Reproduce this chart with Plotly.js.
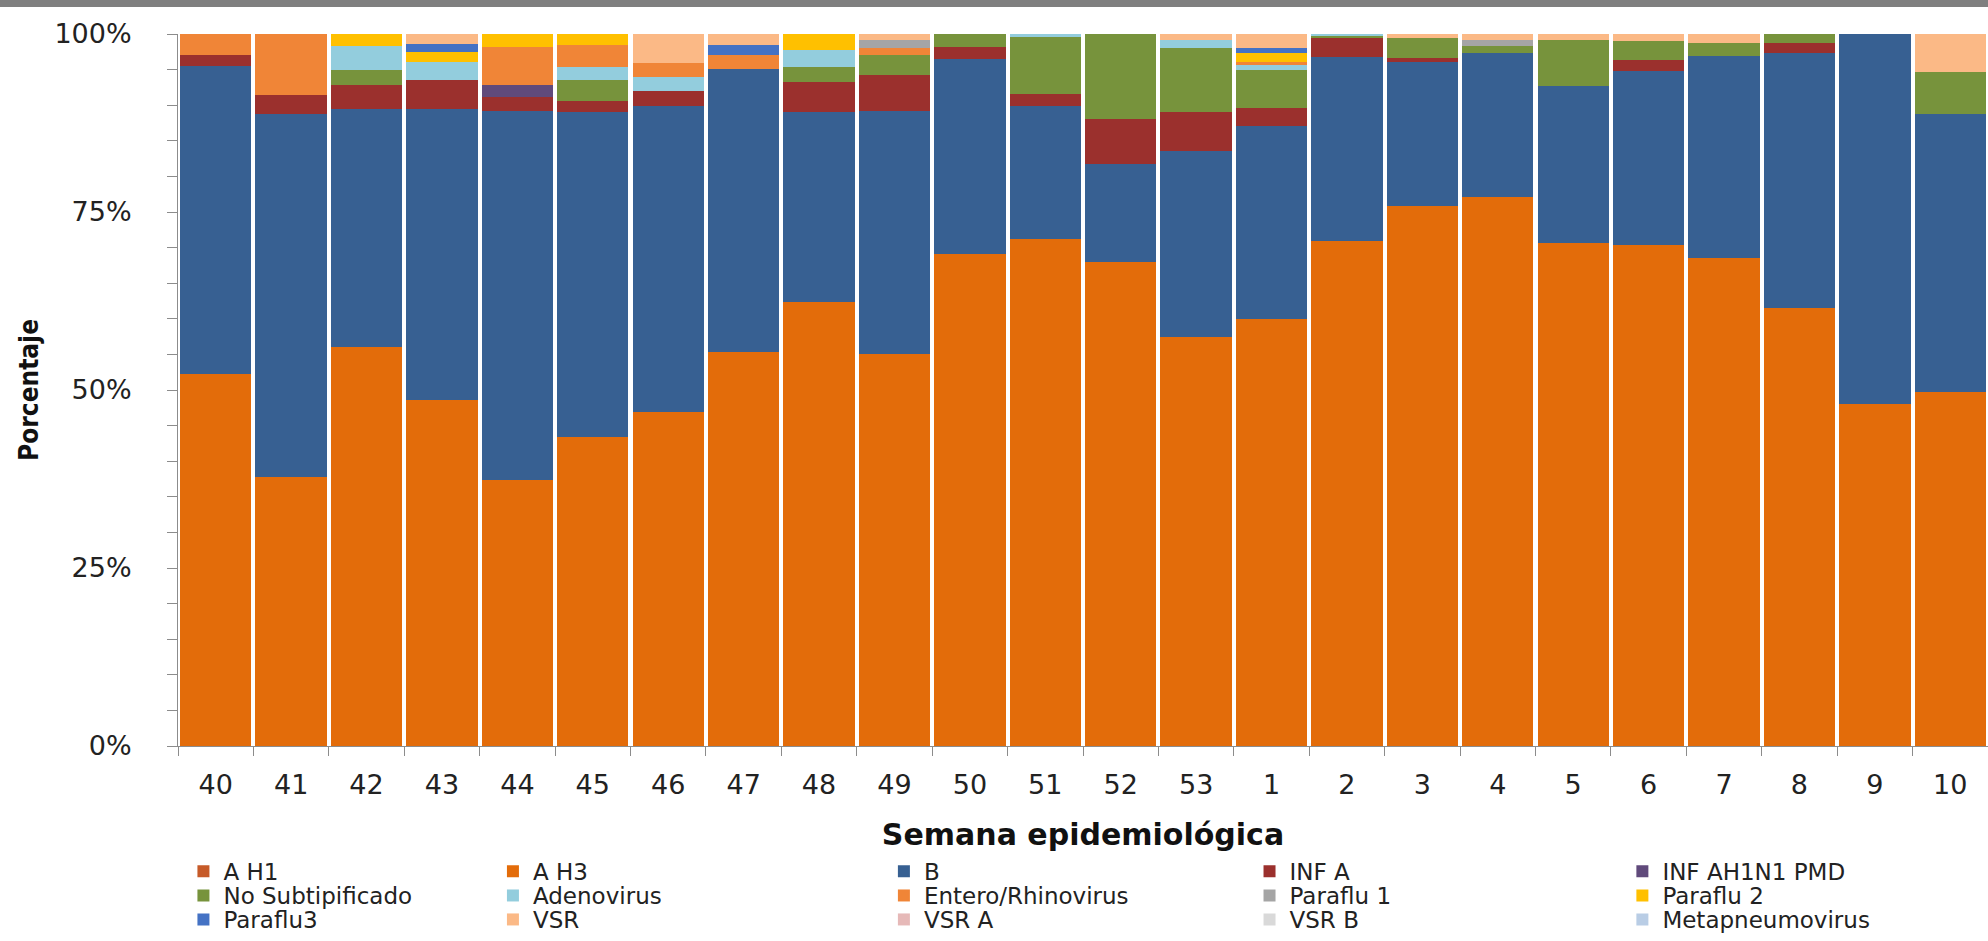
<!DOCTYPE html>
<html>
<head>
<meta charset="utf-8">
<script src="https://cdn.plot.ly/plotly-3.0.1.min.js"></script>
<style>
  html, body { margin: 0; padding: 0; background: #fff; }
  #plot { width: 1988px; height: 941px; }
</style>
</head>
<body>
<div id="plot"></div>
<script>
// semanas epidemiologicas (categorias)
var weeks = ["40","41","42","43","44","45","46","47","48","49","50","51","52","53",
             "1","2","3","4","5","6","7","8","9","10"];

// porcentaje por virus, en el orden de las semanas
var aH1       = [0,0,0,0,0,0,0,0,0,0,0,0,0,0,0,0,0,0,0,0,0,0,0,0];
var aH3       = [52.3,37.8,56.0,48.6,37.3,43.4,46.9,55.3,62.4,55.0,69.1,71.2,68.0,57.5,60.0,70.9,75.9,77.1,70.6,70.3,68.5,61.5,48.0,49.7];
var fluB      = [43.2,50.9,33.5,40.9,51.9,45.6,43.0,39.8,26.6,34.2,27.4,18.7,13.7,26.0,27.1,25.9,20.1,20.3,22.1,24.5,28.4,35.9,52.0,39.0];
var infA      = [1.5,2.8,3.4,4.0,1.9,1.6,2.1,0,4.3,5.1,1.7,1.7,6.3,5.6,2.5,2.6,0.6,0,0,1.5,0,1.4,0,0];
var infAH1N1  = [0,0,0,0,1.8,0,0,0,0,0,0,0,0,0,0,0,0,0,0,0,0,0,0,0];
var noSubtip  = [0,0,2.0,0,0,3.0,0,0,2.1,2.7,1.8,8.0,12.0,9.0,5.3,0.3,2.9,0.9,6.4,2.7,1.9,1.2,0,5.9];
var adenov    = [0,0,3.4,2.5,0,1.7,1.9,0,2.3,0,0,0.4,0,1.0,0.8,0.3,0,0,0,0,0,0,0,0];
var enteroRh  = [3.0,8.5,0,0,5.3,3.1,2.0,1.9,0,1.1,0,0,0,0,0.4,0,0,0,0,0,0,0,0,0];
var paraflu1  = [0,0,0,0,0,0,0,0,0,1.1,0,0,0,0,0,0,0,0.8,0,0,0,0,0,0];
var paraflu2  = [0,0,1.7,1.5,1.8,1.6,0,0,2.3,0,0,0,0,0,1.3,0,0,0,0,0,0,0,0,0];
var paraflu3  = [0,0,0,1.1,0,0,0,1.5,0,0,0,0,0,0,0.6,0,0,0,0,0,0,0,0,0];
var vsr       = [0,0,0,1.4,0,0,4.1,1.5,0,0.8,0,0,0,0.9,2.0,0,0.5,0.9,0.9,1.0,1.2,0,0,5.4];
var vsrA      = [0,0,0,0,0,0,0,0,0,0,0,0,0,0,0,0,0,0,0,0,0,0,0,0];
var vsrB      = [0,0,0,0,0,0,0,0,0,0,0,0,0,0,0,0,0,0,0,0,0,0,0,0];
var metapneu  = [0,0,0,0,0,0,0,0,0,0,0,0,0,0,0,0,0,0,0,0,0,0,0,0];

var yTickVals = [0, 25, 50, 75, 100];
var yTickText = ["0%", "25%", "50%", "75%", "100%"];

var names  = ["A H1","A H3","B","INF A","INF AH1N1 PMD",
              "No Subtipificado","Adenovirus","Entero/Rhinovirus","Paraflu 1","Paraflu 2",
              "Paraflu3","VSR","VSR A","VSR B","Metapneumovirus"];
var series = [aH1, aH3, fluB, infA, infAH1N1,
              noSubtip, adenov, enteroRh, paraflu1, paraflu2,
              paraflu3, vsr, vsrA, vsrB, metapneu];
var colors = ["#C65A28","#E36C0A","#376092","#9B302D","#604A7B",
              "#77933C","#93CDDD","#F08537","#A5A5A5","#FFC000",
              "#4472C4","#FBB986","#E6B9B8","#D9D9D9","#B9CDE5"];

// one small legend per entry: 5 columns x 3 rows, like the original
var colX = [0.003, 0.174, 0.390, 0.592, 0.798];
var rowY = [-0.176, -0.210, -0.244];

var traces = series.map(function (vals, i) {
  return {
    x: weeks,
    y: vals,
    name: names[i],
    type: "bar",
    marker: { color: colors[i], line: { width: 0 } },
    legend: i === 0 ? "legend" : "legend" + (i + 1),
    hovertemplate: "%{x}: %{y:.1f}%<extra>" + names[i] + "</extra>"
  };
});

var legendFont = { family: "DejaVu Sans, Verdana, sans-serif", size: 23, color: "#222" };
var tickFont = { family: "DejaVu Sans, Verdana, sans-serif", size: 27, color: "#222" };
var axisGray = "#8c8c8c";

var layout = {
  width: 1988,
  height: 941,
  margin: { l: 178, r: 0, t: 34, b: 195 },
  paper_bgcolor: "#fff",
  plot_bgcolor: "#fff",
  barmode: "stack",
  barnorm: "percent",
  bargap: 0.055,
  font: { family: "DejaVu Sans, Verdana, sans-serif", color: "#222" },
  xaxis: {
    type: "category",
    showline: true,
    linecolor: axisGray,
    linewidth: 1,
    ticks: "outside",
    tickson: "boundaries",
    ticklen: 9,
    tickcolor: axisGray,
    ticklabelstandoff: 15,
    tickfont: tickFont,
    title: {
      text: "Semana epidemiológica",
      standoff: 24,
      font: { family: "DejaVu Sans, sans-serif", size: 30, weight: "bold", color: "#111" }
    },
    automargin: false
  },
  yaxis: {
    range: [0, 100],
    tickmode: "array",
    tickvals: yTickVals,
    ticktext: yTickText,
    showgrid: false,
    zeroline: false,
    showline: true,
    linecolor: axisGray,
    linewidth: 1,
    ticks: "outside",
    ticklen: 10,
    tickcolor: axisGray,
    ticklabelstandoff: 30,
    minor: { dtick: 5, ticks: "outside", ticklen: 10, tickcolor: axisGray, showgrid: false },
    tickfont: tickFont,
    title: {
      text: "Porcentaje",
      standoff: 8,
      font: { family: "DejaVu Sans Condensed, Liberation Sans Narrow, sans-serif", size: 26, weight: "bold", color: "#111" }
    },
    automargin: false
  },
  // dark band along the top edge of the original picture
  shapes: [{
    type: "rect", xref: "paper", yref: "paper",
    x0: -0.11, x1: 1.01, y0: 1.038, y1: 1.06,
    fillcolor: "#7f7f7f", line: { width: 0 }, layer: "above"
  }],
  showlegend: true
};

names.forEach(function (nm, i) {
  var id = i === 0 ? "legend" : "legend" + (i + 1);
  layout[id] = {
    x: colX[i % 5],
    xanchor: "left",
    y: rowY[Math.floor(i / 5)],
    yanchor: "middle",
    orientation: "v",
    font: legendFont,
    bgcolor: "rgba(0,0,0,0)",
    itemwidth: 30
  };
});

Plotly.newPlot("plot", traces, layout, { displayModeBar: false, staticPlot: true });
</script>
</body>
</html>
